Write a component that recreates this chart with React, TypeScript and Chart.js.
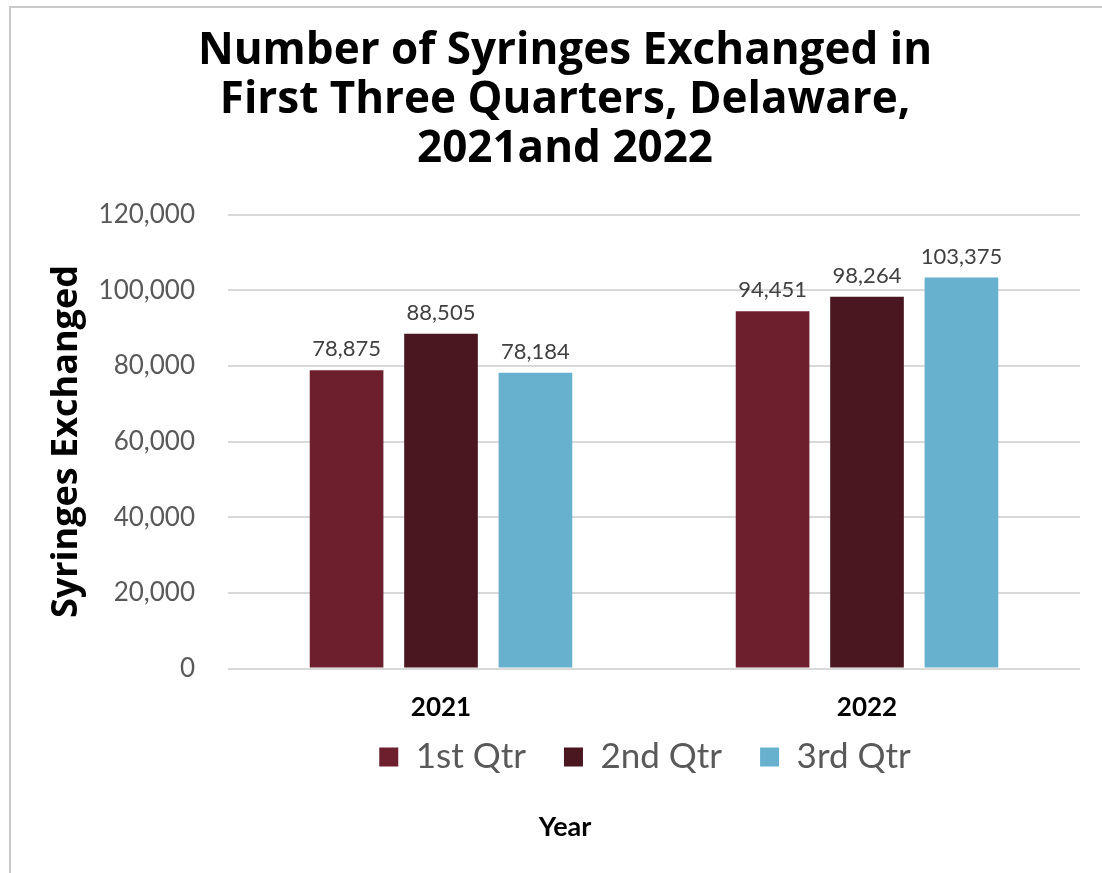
import React, { useEffect, useRef } from "react";
import { Chart, registerables } from "chart.js";

Chart.register(...registerables);

const categories = ["2021", "2022"];
const seriesNames = ["1st Qtr", "2nd Qtr", "3rd Qtr"];
const q1Values = [78875, 94451];
const q2Values = [88505, 98264];
const q3Values = [78184, 103375];
const seriesColors = ["#6d1f2e", "#4a1620", "#67b1cf"];
const titleLines = [
  "Number of Syringes Exchanged in",
  "First Three Quarters, Delaware,",
  "2021and 2022",
];
const yAxisTitle = "Syringes Exchanged";
const xAxisTitle = "Year";

const FONT = "Lato, 'Noto Sans', sans-serif";
const FONT2 = "'Open Sans', 'Noto Sans', sans-serif";

const fmt = (v: number) => v.toLocaleString("en-US");

const dataLabelPlugin = {
  id: "dataLabels",
  afterDatasetsDraw(chart: any) {
    const ctx = chart.ctx;
    ctx.save();
    ctx.font = `22px ${FONT}`;
    ctx.fillStyle = "#404040";
    ctx.textAlign = "center";
    ctx.textBaseline = "bottom";
    chart.data.datasets.forEach((ds: any, i: number) => {
      const meta = chart.getDatasetMeta(i);
      meta.data.forEach((bar: any, j: number) => {
        ctx.fillText(fmt(ds.data[j]), bar.x, bar.y - 10);
      });
    });
    ctx.restore();
  },
};

const borderPlugin = {
  id: "outerBorder",
  beforeDraw(chart: any) {
    const ctx = chart.ctx;
    ctx.save();
    ctx.fillStyle = "#ffffff";
    ctx.fillRect(0, 0, chart.width, chart.height);
    ctx.strokeStyle = "#c9c9c9";
    ctx.lineWidth = 2;
    ctx.strokeRect(10, 7, chart.width + 50, chart.height + 50);
    ctx.restore();
  },
};

// pull the legend row up closer to the category labels
const legendShiftPlugin = {
  id: "legendShift",
  afterLayout(chart: any) {
    const lg = chart.legend;
    if (lg) {
      lg.top -= 19;
      lg.bottom -= 19;
      lg.left -= 9;
      lg.right -= 9;
    }
  },
};

export default function App() {
  const ref = useRef<HTMLCanvasElement | null>(null);

  useEffect(() => {
    document.body.style.margin = "0";
    if (!ref.current) return;
    const chart = new Chart(ref.current, {
      type: "bar",
      data: {
        labels: categories,
        datasets: [
          { label: seriesNames[0], data: q1Values, backgroundColor: seriesColors[0] },
          { label: seriesNames[1], data: q2Values, backgroundColor: seriesColors[1] },
          { label: seriesNames[2], data: q3Values, backgroundColor: seriesColors[2] },
        ],
      },
      options: {
        responsive: false,
        animation: false,
        devicePixelRatio: 1,
        datasets: {
          bar: { barPercentage: 0.78, categoryPercentage: 0.665 },
        },
        layout: { padding: { left: 50, right: 22, top: 0, bottom: 18 } },
        scales: {
          x: {
            afterFit(scale: any) {
              scale.height = 52;
            },
            grid: { display: false, drawTicks: false },
            border: { display: false },
            ticks: {
              color: "#000000",
              font: { family: FONT, size: 26, weight: "bold" },
              padding: 23,
            },
          },
          y: {
            min: 0,
            max: 120000,
            afterFit(scale: any) {
              scale.width = 178;
            },
            grid: { color: "#d9d9d9", lineWidth: 2, drawTicks: false },
            border: { display: false },
            ticks: {
              stepSize: 20000,
              color: "#595959",
              font: { family: FONT, size: 26 },
              padding: 33,
              callback: (v: any) => fmt(Number(v)),
            },
            title: {
              display: true,
              text: yAxisTitle,
              color: "#000000",
              font: { family: FONT2, size: 36, weight: "bold", lineHeight: 0.95 },
              padding: { top: 0, bottom: 0 },
            },
          },
        },
        plugins: {
          title: {
            display: true,
            text: titleLines,
            color: "#000000",
            font: { family: FONT2, size: 44, weight: "bold", lineHeight: 1.11 },
            padding: { top: 27, bottom: 41 },
            fullSize: true,
          },
          subtitle: {
            display: true,
            position: "bottom",
            text: xAxisTitle,
            color: "#000000",
            font: { family: FONT, size: 27, weight: "bold" },
            padding: { top: 7, bottom: 12 },
          },
          legend: {
            position: "bottom",
            fullSize: false,
            labels: {
              color: "#595959",
              font: { family: FONT, size: 35 },
              boxWidth: 19,
              boxHeight: 19,
              padding: 38,
            },
          },
          tooltip: { enabled: false },
        },
      },
      plugins: [borderPlugin, dataLabelPlugin, legendShiftPlugin],
    } as any);
    return () => chart.destroy();
  }, []);

  return (
    <div style={{ width: 1102, height: 873 }}>
      <canvas ref={ref} width={1102} height={873} />
    </div>
  );
}
